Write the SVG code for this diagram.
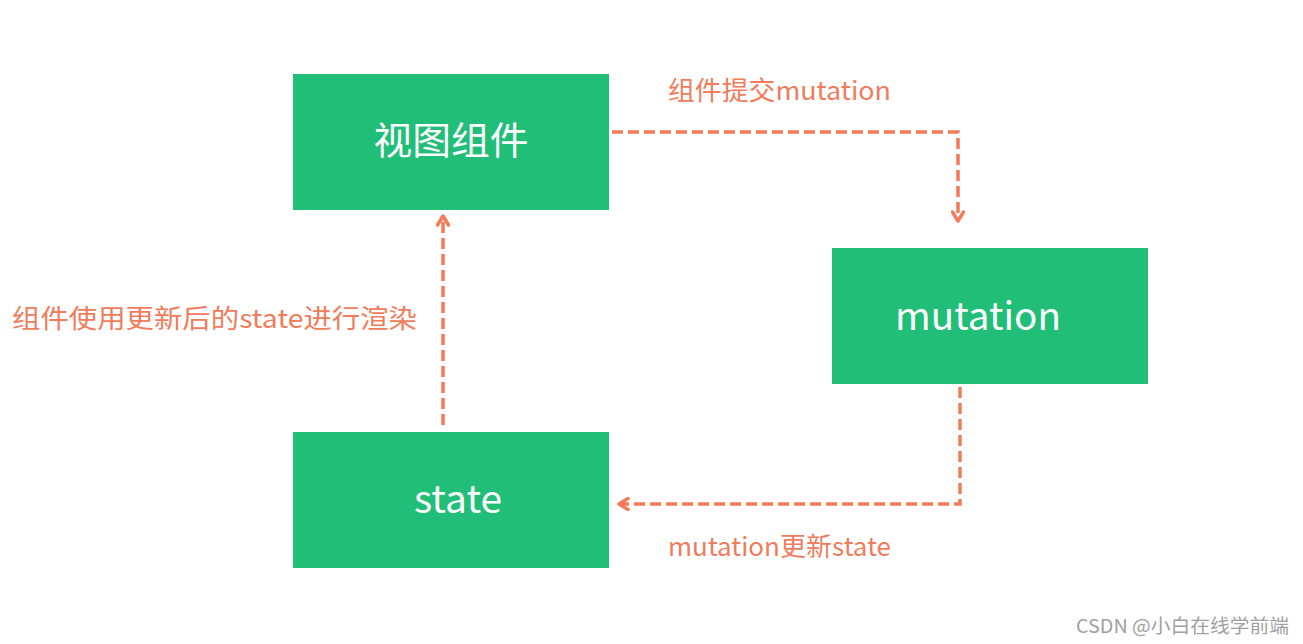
<svg xmlns="http://www.w3.org/2000/svg" width="1303" height="644" viewBox="0 0 1303 644">
<style>
.box{fill:#21BE78;}
.bt{fill:#fff;font-family:"Noto Sans CJK SC","Noto Sans",sans-serif;font-size:38px;text-anchor:middle;}
.lbl{fill:#F07C5C;font-family:"Noto Sans CJK SC","Noto Sans",sans-serif;font-size:26px;}
.con{fill:none;stroke:#F47B5A;stroke-width:3.5;stroke-dasharray:11 5;}
.wm{fill:#A0A0A0;font-family:"Noto Sans CJK SC","Noto Sans",sans-serif;font-size:19px;}
</style>
<defs>
<marker id="arr" viewBox="0 0 14 14" refX="11" refY="7" markerWidth="14" markerHeight="14" markerUnits="userSpaceOnUse" orient="auto">
<path d="M2,1.5 L11,7 L2,12.5" fill="none" stroke="#F47B5A" stroke-width="3.5" stroke-linecap="round" stroke-linejoin="round"/>
</marker>
</defs>
<rect width="1303" height="644" fill="#fff"/>
<g id="view">
<rect class="box" x="293" y="74" width="316" height="136"/>
<text class="bt" x="451" y="154" textLength="155" lengthAdjust="spacingAndGlyphs">视图组件</text>
</g>
<g id="mutation">
<rect class="box" x="832" y="248" width="316" height="136"/>
<text class="bt" x="978" y="330" textLength="166" lengthAdjust="spacingAndGlyphs">mutation</text>
</g>
<g id="state">
<rect class="box" x="293" y="432" width="316" height="136"/>
<text class="bt" x="458" y="513" textLength="88" lengthAdjust="spacingAndGlyphs">state</text>
</g>
<g id="connectors">
<path class="con" d="M612,132 H958 V221" marker-end="url(#arr)"/>
<path class="con" d="M960,387 V504 H619" marker-end="url(#arr)"/>
<path class="con" d="M443,425 V216" marker-end="url(#arr)"/>
</g>
<g id="labels">
<text class="lbl" x="668" y="100" textLength="223" lengthAdjust="spacingAndGlyphs">组件提交mutation</text>
<text class="lbl" x="668" y="556" textLength="223" lengthAdjust="spacingAndGlyphs">mutation更新state</text>
<text class="lbl" x="12" y="328" textLength="405" lengthAdjust="spacingAndGlyphs">组件使用更新后的state进行渲染</text>
</g>
<text class="wm" x="1076" y="633" textLength="213" lengthAdjust="spacingAndGlyphs">CSDN @小白在线学前端</text>
</svg>
